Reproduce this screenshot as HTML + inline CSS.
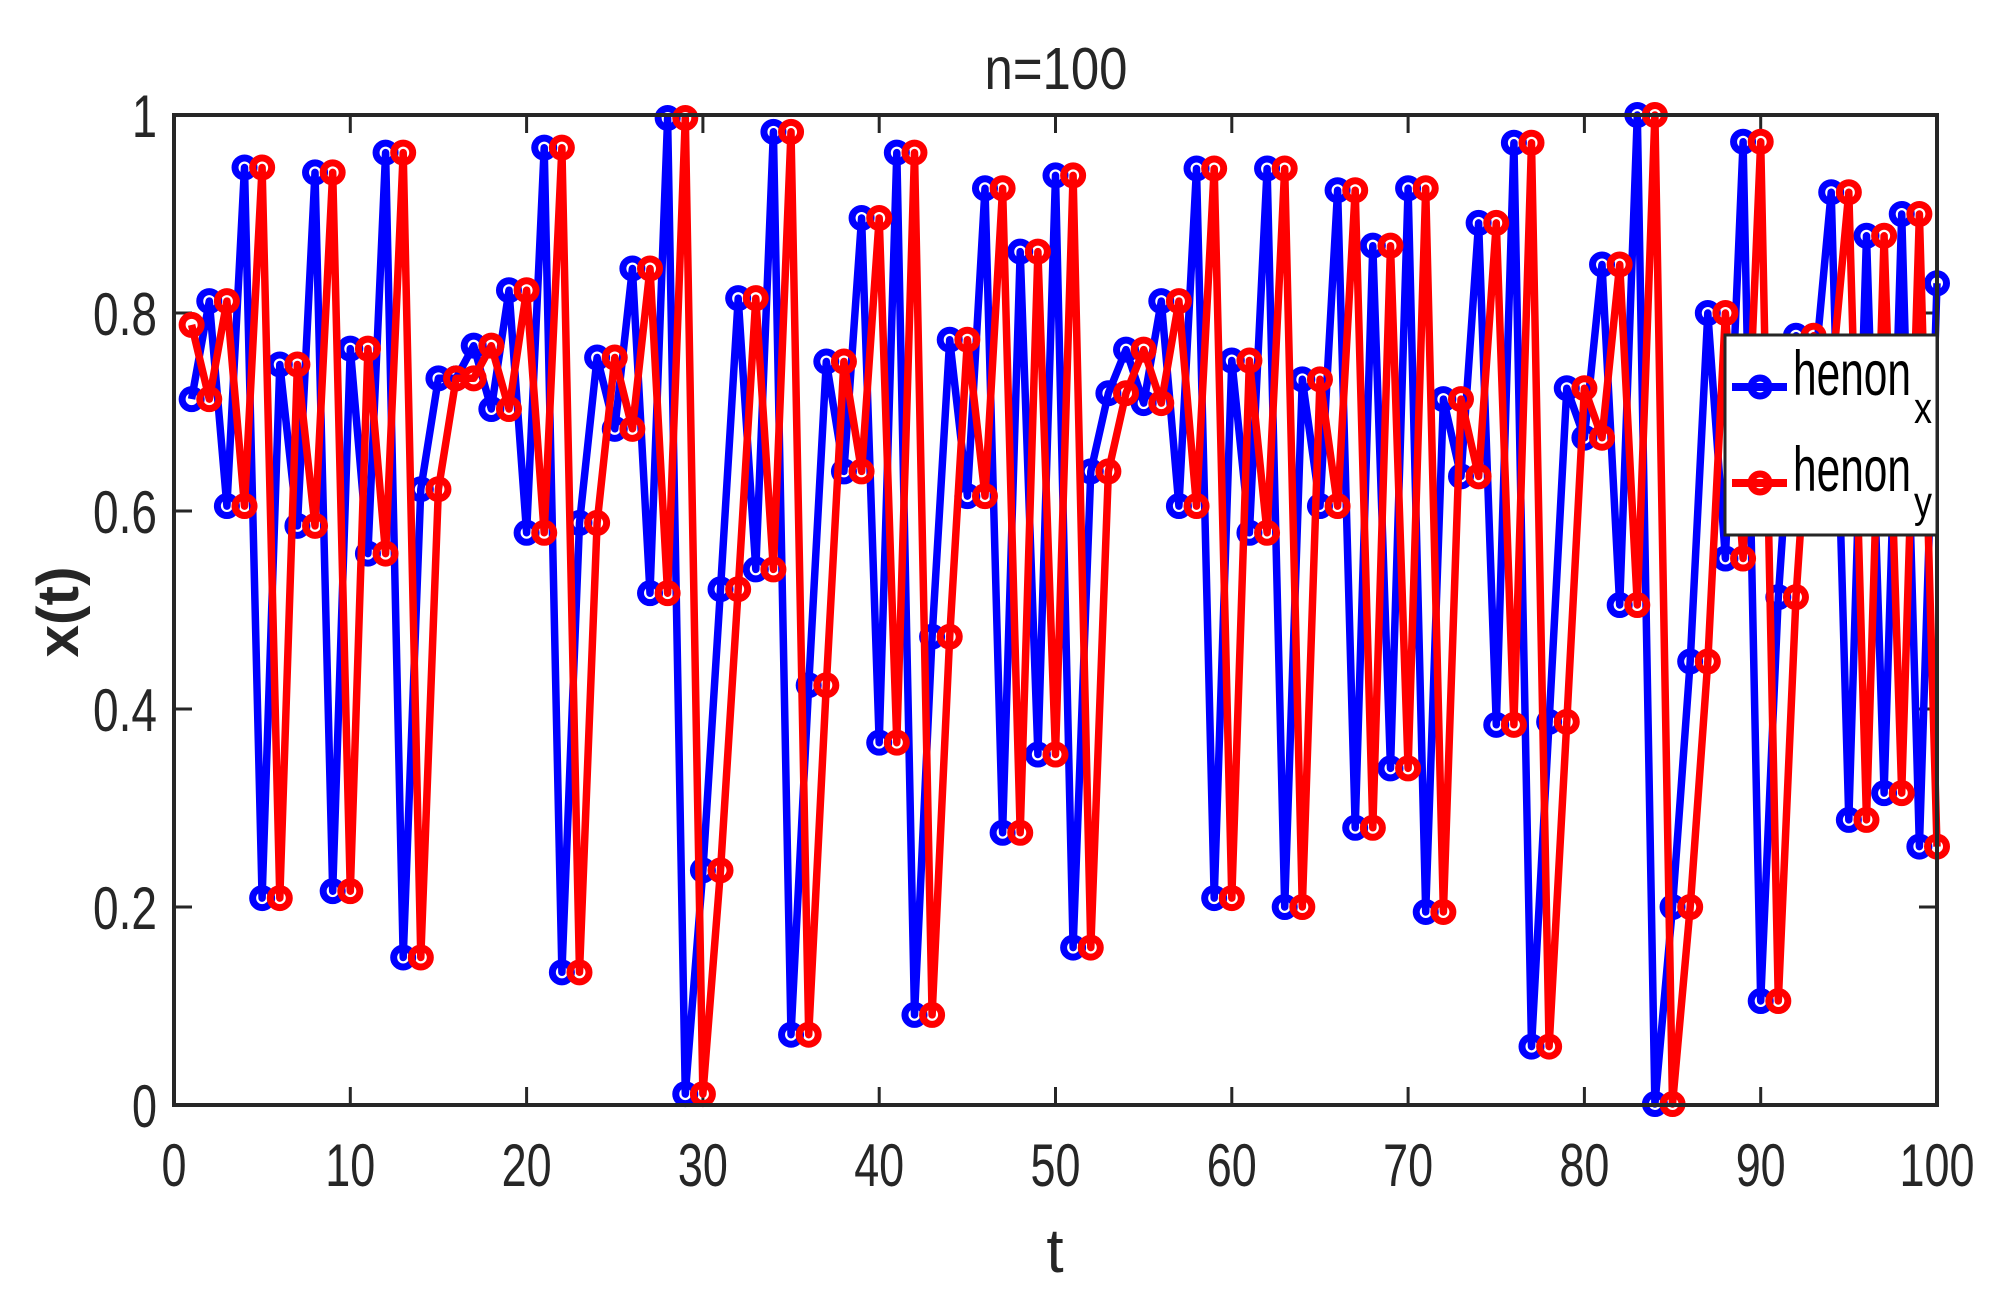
<!DOCTYPE html>
<html><head><meta charset="utf-8"><style>
html,body{margin:0;padding:0;background:#fff}
svg{display:block}
text{font-family:"Liberation Sans",Arial,sans-serif;fill:#262626}
</style></head><body>
<svg id="s" width="2004" height="1295" viewBox="0 0 2004 1295" xmlns="http://www.w3.org/2000/svg">
<rect width="2004" height="1295" fill="#fff"/>
<g id="ticks" stroke="#262626" stroke-width="3"></g>
<g id="data"></g>
<rect x="174" y="115" width="1763" height="990" fill="none" stroke="#262626" stroke-width="4"/>
<text x="1056" y="89" font-size="59" text-anchor="middle" textLength="143" lengthAdjust="spacingAndGlyphs">n=100</text>
<text x="1055" y="1272" font-size="62" text-anchor="middle">t</text>
<text transform="translate(78,612) rotate(-90)" font-size="58" font-weight="bold" text-anchor="middle" textLength="91" lengthAdjust="spacingAndGlyphs">x(t)</text>
<g id="labels"></g>
<g>
<rect x="1725" y="335" width="212" height="200" fill="#fff" stroke="#262626" stroke-width="3"/>
<line x1="1732" y1="387" x2="1787" y2="387" stroke="#0000ff" stroke-width="8"/>
<circle cx="1760" cy="387" r="9" fill="none" stroke="#0000ff" stroke-width="7"/>
<text x="1793" y="395" font-size="63" textLength="118" lengthAdjust="spacingAndGlyphs" style="fill:#000">henon</text>
<text x="1914" y="423" font-size="44" textLength="18" lengthAdjust="spacingAndGlyphs" style="fill:#000">x</text>
<line x1="1732" y1="483" x2="1787" y2="483" stroke="#ff0000" stroke-width="8"/>
<circle cx="1760" cy="483" r="9" fill="none" stroke="#ff0000" stroke-width="7"/>
<text x="1793" y="491" font-size="63" textLength="118" lengthAdjust="spacingAndGlyphs" style="fill:#000">henon</text>
<text x="1914" y="517" font-size="44" textLength="18" lengthAdjust="spacingAndGlyphs" style="fill:#000">y</text>
</g>
</svg>
<script>
var L=174,R=1937,T=115,B=1105;
function X(t){return L+(R-L)*t/100}
function Y(v){return B-(B-T)*v}
var bx=[0.713,0.812,0.605,0.947,0.209,0.748,0.585,0.942,0.216,0.764,0.557,0.962,0.149,0.622,0.734,0.734,0.767,0.703,0.823,0.578,0.967,0.134,0.588,0.755,0.683,0.845,0.517,0.997,0.011,0.237,0.521,0.815,0.541,0.983,0.071,0.424,0.751,0.640,0.896,0.366,0.962,0.091,0.473,0.773,0.615,0.926,0.275,0.862,0.354,0.939,0.159,0.640,0.719,0.763,0.709,0.812,0.605,0.946,0.209,0.752,0.578,0.946,0.200,0.733,0.605,0.924,0.280,0.868,0.340,0.926,0.195,0.713,0.635,0.891,0.384,0.972,0.059,0.387,0.724,0.674,0.849,0.505,1.0,0.001,0.200,0.448,0.800,0.552,0.973,0.105,0.513,0.777,0.730,0.922,0.288,0.878,0.315,0.900,0.261,0.830];
var ry=[0.788].concat(bx.slice(0,99));
var NS="http://www.w3.org/2000/svg";
function el(tag,attrs,parent){var e=document.createElementNS(NS,tag);for(var k in attrs)e.setAttribute(k,attrs[k]);parent.appendChild(e);return e}
var tk=document.getElementById('ticks');
for(var i=0;i<=10;i++){var x=X(i*10);el('line',{x1:x,y1:B,x2:x,y2:B-18},tk);el('line',{x1:x,y1:T,x2:x,y2:T+18},tk);}
for(var i=0;i<=5;i++){var y=Y(i*0.2);el('line',{x1:L,y1:y,x2:L+18,y2:y},tk);el('line',{x1:R,y1:y,x2:R-18,y2:y},tk);}
var lb=document.getElementById('labels');
for(var i=0;i<=10;i++){var s=String(i*10);var t=el('text',{x:X(i*10),y:1186,'font-size':60,'text-anchor':'middle',textLength:s.length*25,lengthAdjust:'spacingAndGlyphs'},lb);t.textContent=s;}
var yl=['0','0.2','0.4','0.6','0.8','1'];
for(var i=0;i<=5;i++){var s=yl[i];var t=el('text',{x:157,y:Y(i*0.2)+22,'font-size':60,'text-anchor':'end',textLength:s.length==1?25:64,lengthAdjust:'spacingAndGlyphs'},lb);t.textContent=s;}
var dg=document.getElementById('data');
function series(v,c){var p=v.map(function(a,i){return X(i+1).toFixed(1)+','+Y(a).toFixed(1)}).join(' ');
el('polyline',{points:p,fill:'none',stroke:c,'stroke-width':7.5,'stroke-linejoin':'round'},dg);
v.forEach(function(a,i){el('circle',{cx:X(i+1),cy:Y(a),r:9.5,fill:'none',stroke:c,'stroke-width':7},dg)});}
series(bx,'#0000ff');series(ry,'#ff0000');
</script>
</body></html>
